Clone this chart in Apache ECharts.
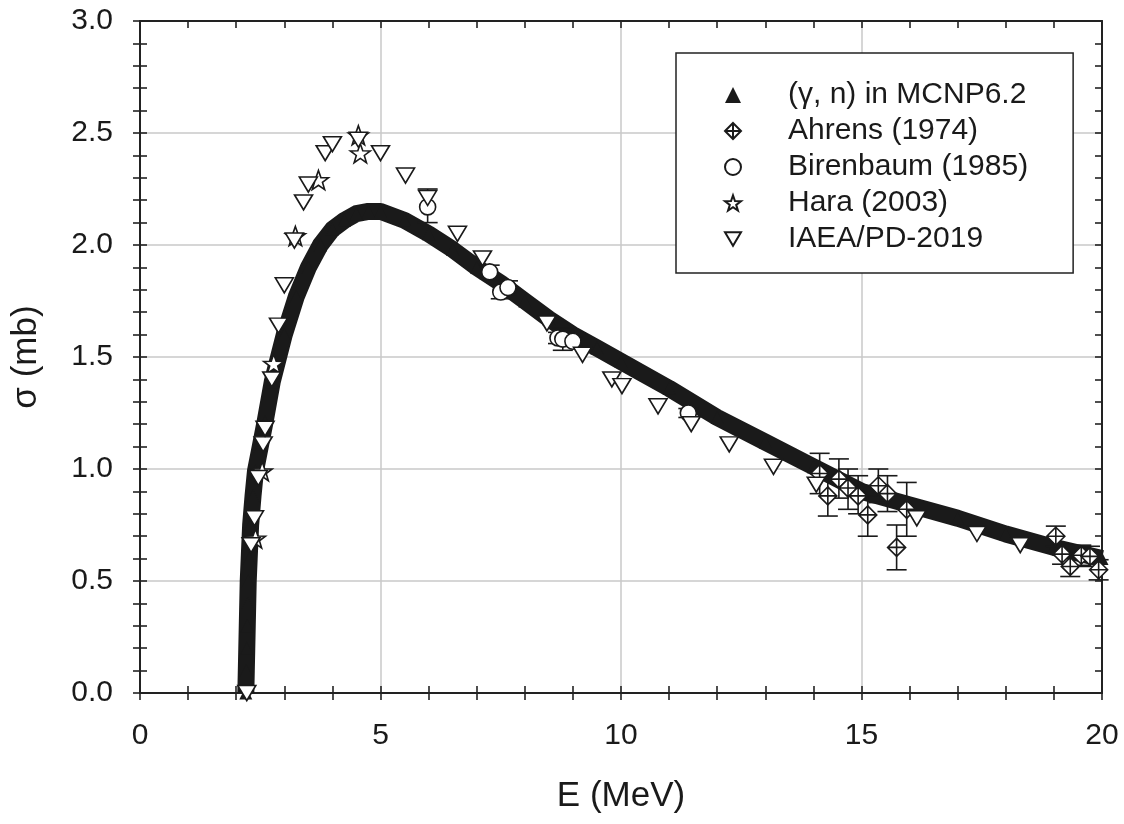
<!DOCTYPE html>
<html><head><meta charset="utf-8">
<script src="https://cdn.jsdelivr.net/npm/echarts@6/dist/echarts.min.js"></script>
<style>html,body{margin:0;padding:0;background:#fff}#c{width:1124px;height:824px}</style>
</head><body><div id="c"></div>
<script>
// ---- data ----
const mcnpE = [2.20,2.21,2.22,2.23,2.24,2.25,2.27,2.30,2.35,2.40,2.50,2.60,2.75,3.00,3.25,3.50,3.75,4.00,4.25,4.50,4.75,5.00,5.50,6.00,6.50,7.00,7.50,8.00,8.50,9.00,9.50,10.0,11.0,12.0,13.0,14.0,15.0,16.0,17.0,18.0,19.0,20.0];
const mcnpS = [0.00,0.10,0.20,0.30,0.40,0.50,0.60,0.75,0.88,0.99,1.10,1.21,1.39,1.60,1.77,1.90,2.00,2.07,2.11,2.14,2.15,2.15,2.11,2.05,1.98,1.90,1.83,1.75,1.67,1.60,1.54,1.48,1.36,1.23,1.12,1.01,0.90,0.84,0.78,0.71,0.65,0.60];

const ahrensE  = [14.13,14.30,14.53,14.72,14.93,15.13,15.35,15.54,15.73,15.94,19.04,19.17,19.34,19.57,19.75,19.93];
const ahrensS  = [0.98,0.88,0.955,0.915,0.88,0.795,0.925,0.89,0.65,0.82,0.70,0.62,0.565,0.615,0.61,0.55];
const ahrensLo = [0.89,0.79,0.87,0.82,0.80,0.70,0.85,0.81,0.55,0.70,0.655,0.575,0.52,0.57,0.565,0.505];
const ahrensHi = [1.07,0.97,1.045,1.00,0.97,0.88,1.00,0.97,0.75,0.94,0.745,0.665,0.61,0.66,0.655,0.595];

const birenE  = [5.98,7.27,7.50,7.65,8.69,8.79,9.00,11.40];
const birenS  = [2.17,1.88,1.79,1.81,1.585,1.58,1.57,1.25];
const birenLo = [2.10,1.85,1.76,1.78,1.56,1.53,1.55,1.23];
const birenHi = [2.25,1.91,1.82,1.84,1.61,1.63,1.59,1.27];

const haraE = [2.40,2.54,2.78,3.23,3.71,4.54,4.58];
const haraS = [0.69,0.99,1.47,2.04,2.29,2.49,2.41];

const iaeaE = [2.22,2.31,2.38,2.46,2.56,2.60,2.74,2.88,3.00,3.21,3.40,3.50,3.85,4.00,4.54,5.00,5.52,5.98,6.60,7.12,8.46,9.20,9.81,10.02,10.77,11.46,12.25,13.17,14.06,16.15,17.40,18.30];
const iaeaS = [0.00,0.66,0.78,0.96,1.11,1.18,1.40,1.64,1.82,2.02,2.19,2.27,2.41,2.45,2.47,2.41,2.31,2.21,2.05,1.94,1.65,1.51,1.40,1.37,1.28,1.20,1.11,1.01,0.93,0.78,0.71,0.66];

const seriesNames = ['(γ, n) in MCNP6.2','Ahrens (1974)','Birenbaum (1985)','Hara (2003)','IAEA/PD-2019'];
const xMin = 0, xMax = 20, xInterval = 5;
const yMin = 0, yMax = 3, yInterval = 0.5;

// ---- styling ----
const FONT = "'Liberation Sans', Arial, Helvetica, sans-serif";
const INK = '#1a1a1a';
const zip = (a, b) => a.map((v, i) => [v, b[i]]);
const zip3 = (a, b, c) => a.map((v, i) => [v, b[i], c[i]]);

const DIAMOND = 'path://M0,-10L10,0L0,10L-10,0Z M0,-10L0,10 M-10,0L10,0';
const STAR = 'path://M0,-10L2.35,-3.24L9.51,-3.09L3.80,1.24L5.88,8.09L0,4L-5.88,8.09L-3.80,1.24L-9.51,-3.09L-2.35,-3.24Z';
const INVTRI = 'path://M-10,-8L10,-8L0,9Z';

function errRender(params, api) {
  const x = api.value(0), lo = api.value(1), hi = api.value(2);
  const p1 = api.coord([x, lo]), p2 = api.coord([x, hi]);
  const w = 10;
  const style = { stroke: INK, lineWidth: 1.6, fill: null };
  return { type: 'group', children: [
    { type: 'line', shape: { x1: p1[0], y1: p1[1], x2: p2[0], y2: p2[1] }, style },
    { type: 'line', shape: { x1: p1[0] - w, y1: p1[1], x2: p1[0] + w, y2: p1[1] }, style },
    { type: 'line', shape: { x1: p2[0] - w, y1: p2[1], x2: p2[0] + w, y2: p2[1] }, style }
  ]};
}

const axisLine = { show: true, onZero: false, lineStyle: { color: '#222', width: 2 } };
const tickStyle = { color: '#222', width: 1.6 };

function xAx(pos, inside, primary) {
  return {
    type: 'value', gridIndex: 0, position: pos, min: xMin, max: xMax, interval: xInterval,
    axisLine,
    axisTick: { show: true, inside, length: 7, lineStyle: tickStyle },
    minorTick: { show: true, splitNumber: 5, length: 7, lineStyle: tickStyle },
    axisLabel: primary ? { show: true, margin: 28, fontSize: 30, fontFamily: FONT, color: INK } : { show: false },
    splitLine: primary ? { show: true, lineStyle: { color: '#c8c8c8', width: 1.5 } } : { show: false },
    name: primary ? 'E (MeV)' : '', nameLocation: 'middle', nameGap: 86,
    nameTextStyle: { fontSize: 35, fontFamily: FONT, color: INK }
  };
}
function yAx(pos, inside, primary) {
  return {
    type: 'value', gridIndex: 0, position: pos, min: yMin, max: yMax, interval: yInterval,
    axisLine,
    axisTick: { show: true, inside, length: 7, lineStyle: tickStyle },
    minorTick: { show: true, splitNumber: 5, length: 7, lineStyle: tickStyle },
    axisLabel: primary ? { show: true, margin: 27, fontSize: 30, fontFamily: FONT, color: INK, formatter: v => v.toFixed(1) } : { show: false },
    splitLine: primary ? { show: true, lineStyle: { color: '#c8c8c8', width: 1.5 } } : { show: false },
    name: primary ? 'σ (mb)' : '', nameLocation: 'middle', nameGap: 96,
    nameTextStyle: { fontSize: 35, fontFamily: FONT, color: INK }
  };
}

const markerBase = { color: '#fff', borderColor: INK, borderWidth: 1.6, opacity: 1 };

const option = {
  animation: false,
  backgroundColor: '#fff',
  grid: { left: 140, right: 22, top: 21, bottom: 131, containLabel: false },
  xAxis: [xAx('bottom', false, true), xAx('bottom', true, false), xAx('top', true, false)],
  yAxis: [yAx('left', false, true), yAx('left', true, false), yAx('right', true, false)],
  legend: {
    orient: 'vertical', left: 676, top: 53,
    padding: [24, 45, 16, 48], itemGap: 0, itemWidth: 16, itemHeight: 16,
    borderColor: '#222', borderWidth: 1.5, backgroundColor: '#fff',
    selectedMode: false,
    textStyle: { fontSize: 30, fontFamily: FONT, color: INK, lineHeight: 36, padding: [0, 0, 0, 42] },
    data: [{ name: seriesNames[0], icon: 'triangle' }, seriesNames[1], seriesNames[2], seriesNames[3], seriesNames[4]]
  },
  series: [
    {
      name: seriesNames[0], type: 'line', data: zip(mcnpE, mcnpS), z: 2,
      symbol: 'triangle', symbolSize: 13, showSymbol: true, showAllSymbol: true,
      itemStyle: { color: INK, opacity: 1 },
      lineStyle: { color: INK, width: 17, join: 'round', cap: 'butt' },
      clip: false
    },
    { type: 'custom', name: 'err-a', renderItem: errRender, data: zip3(ahrensE, ahrensLo, ahrensHi), encode: { x: 0, y: [1, 2] }, z: 3, silent: true },
    { type: 'custom', name: 'err-b', renderItem: errRender, data: zip3(birenE, birenLo, birenHi), encode: { x: 0, y: [1, 2] }, z: 3, silent: true },
    { name: seriesNames[1], type: 'scatter', data: zip(ahrensE, ahrensS), z: 4, symbol: DIAMOND, symbolSize: 18, symbolKeepAspect: true, itemStyle: markerBase },
    { name: seriesNames[2], type: 'scatter', data: zip(birenE, birenS), z: 4, symbol: 'circle', symbolSize: 16, itemStyle: markerBase },
    { name: seriesNames[3], type: 'scatter', data: zip(haraE, haraS), z: 4, symbol: STAR, symbolSize: 20, symbolKeepAspect: true, itemStyle: markerBase },
    { name: seriesNames[4], type: 'scatter', data: zip(iaeaE, iaeaS), z: 4, symbol: INVTRI, symbolSize: [18, 15], itemStyle: markerBase, clip: false }
  ]
};

const chart = echarts.init(document.getElementById('c'), null, { renderer: 'canvas' });
chart.setOption(option);
</script>
</body></html>
